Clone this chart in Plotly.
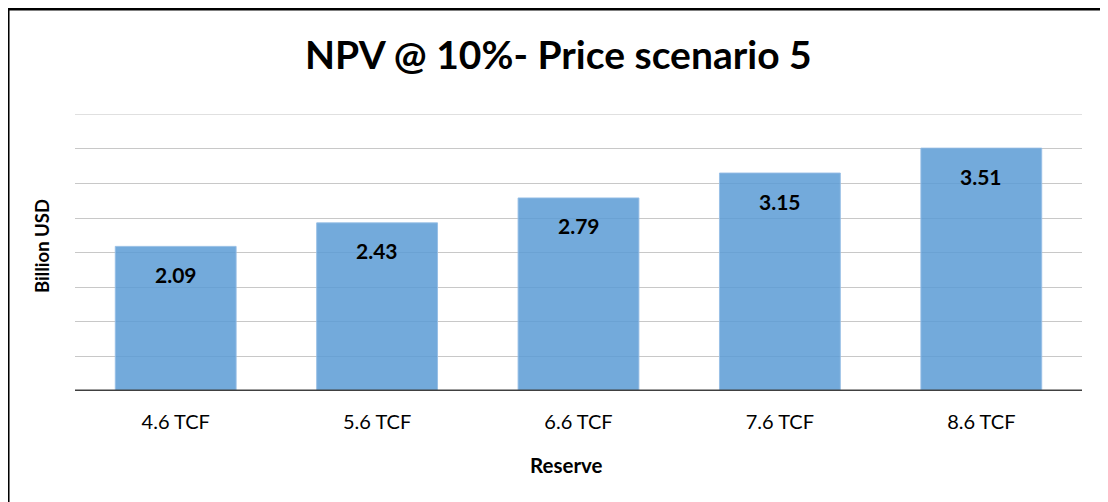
import plotly.graph_objects as go

categories = ["4.6 TCF", "5.6 TCF", "6.6 TCF", "7.6 TCF", "8.6 TCF"]
npv_values = [2.09, 2.43, 2.79, 3.15, 3.51]
value_labels = ["2.09", "2.43", "2.79", "3.15", "3.51"]
y_max = 4.0

title_text = "NPV @ 10%- Price scenario 5"
x_title = "Reserve"
y_title = "Billion USD"

FONT = "Lato, Carlito, 'Liberation Sans', sans-serif"

fig = go.Figure()
fig.add_trace(go.Bar(
    x=categories, y=npv_values,
    marker=dict(color="rgba(91,155,213,0.85)",
                line=dict(color="rgba(150,190,230,0.9)", width=1)),
    width=0.6, hoverinfo="skip",
))

annotations = []
for c, v, lab in zip(categories, npv_values, value_labels):
    annotations.append(dict(x=c, y=v, xref="x", yref="y", text=f"<b>{lab}</b>",
                            showarrow=False, yshift=-28,
                            font=dict(size=21, color="#000000", family=FONT)))
annotations.append(dict(x=0.488, xref="paper", y=-0.267, yref="paper", text=f"<b>{x_title}</b>",
                        xanchor="center", yanchor="middle",
                        showarrow=False, font=dict(size=20.5, color="#000000", family=FONT)))
annotations.append(dict(x=-0.0328, xref="paper", y=0.523, yref="paper", text=f"<b>{y_title}</b>",
                        xanchor="center", yanchor="middle",
                        showarrow=False, textangle=-90,
                        font=dict(size=18.5, color="#000000", family=FONT)))
annotations.append(dict(x=0.480, xref="paper", y=1.215, yref="paper", text=f"<b>{title_text}</b>",
                        xanchor="center", yanchor="middle",
                        showarrow=False, font=dict(size=39, color="#000000", family=FONT)))

fig.update_layout(
    width=1108, height=502,
    margin=dict(l=67, r=33.5, t=106, b=119),
    paper_bgcolor="white", plot_bgcolor="white",
    showlegend=False,
    annotations=annotations,
    xaxis=dict(showgrid=False, showline=False, zeroline=False,
               tickfont=dict(size=20, color="#000000", family=FONT),
               ticks="", ticklabelstandoff=17),
    yaxis=dict(range=[0, 4.003], dtick=0.5, tick0=0, showgrid=True, gridcolor="#c8c8c8", gridwidth=1,
               showticklabels=False, zeroline=False, showline=False, ticks=""),
    shapes=[
        dict(type="line", xref="paper", yref="y", x0=0, x1=1, y0=y_max, y1=y_max,
             line=dict(color="#d4d4d4", width=1), layer="below"),
        dict(type="line", xref="paper", yref="y", x0=0, x1=1, y0=0, y1=0,
             line=dict(color="#404040", width=3), layer="above"),
        dict(type="rect", xref="paper", yref="paper", x0=-0.0665, x1=1.2, y0=-0.6, y1=1.379,
             line=dict(color="#000000", width=3), fillcolor="rgba(0,0,0,0)"),
    ],
)

fig.write_html("out.html")
